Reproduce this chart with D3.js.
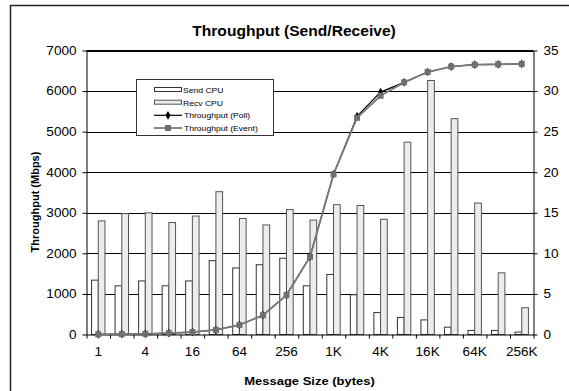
<!DOCTYPE html>
<html><head><meta charset="utf-8">
<script src="https://cdn.jsdelivr.net/npm/d3@7"></script>
<style>
body{margin:0;background:#fff}
svg{display:block;font-family:"Liberation Sans",Arial,Helvetica,sans-serif}
</style>
</head><body>
<svg id="chart" width="569" height="391"></svg>
<script>
// Message sizes (bytes), one category per power of two
const sizes = ["1","2","4","8","16","32","64","128","256","512","1K","2K","4K","8K","16K","32K","64K","128K","256K"];
const tickLabels = ["1","4","16","64","256","1K","4K","16K","64K","256K"];

// CPU utilisation (%), right axis
const sendCpu = [6.7, 6.0, 6.6, 6.0, 6.6, 9.1, 8.2, 8.6, 9.4, 6.0, 7.4, 4.9, 2.7, 2.1, 1.8, 0.9, 0.5, 0.5, 0.3];
const recvCpu = [14.0, 14.9, 15.0, 13.8, 14.6, 17.6, 14.3, 13.5, 15.4, 14.1, 16.0, 15.9, 14.2, 23.7, 31.3, 26.6, 16.2, 7.6, 3.3];

// Throughput (Mbps), left axis
const pollMbps  = [4, 8, 17, 32, 60, 112, 235, 475, 970, 1915, 3950, 5380, 5975, 6215, 6470, 6605, 6650, 6660, 6670];
const eventMbps = [4, 8, 17, 32, 60, 112, 235, 475, 970, 1915, 3950, 5340, 5885, 6215, 6470, 6605, 6650, 6660, 6670];

const leftTicks  = [0, 1000, 2000, 3000, 4000, 5000, 6000, 7000];
const rightTicks = [0, 5, 10, 15, 20, 25, 30, 35];

const legendItems = ["Send CPU", "Recv CPU", "Throughput (Poll)", "Throughput (Event)"];

const svg = d3.select("#chart");
const SX = 1.13; // horizontal text stretch
const plot = {left: 86.5, right: 533.5, top: 50.5, bottom: 334.5};

// outer frame
svg.append("rect")
  .attr("x", 10.5).attr("y", 5.5).attr("width", 600).attr("height", 420)
  .attr("fill", "none").attr("stroke", "#222").attr("stroke-width", 1.5);

// scales
const x = d3.scaleBand().domain(sizes).range([plot.left, plot.right])
  .paddingInner(0.43).paddingOuter(0.215);
const xSub = d3.scaleBand().domain(["send", "recv"]).range([0, x.bandwidth()]);
const xEdge = d3.scaleLinear().domain([0, sizes.length]).range([plot.left, plot.right]);
const yL = d3.scaleLinear().domain([0, 7000]).range([plot.bottom, plot.top]);
const yR = d3.scaleLinear().domain([0, 35]).range([plot.bottom, plot.top]);
const cx = d => x(d) + x.bandwidth() / 2;

// gridlines
svg.append("g").selectAll("line")
  .data(leftTicks.slice(1))
  .join("line")
  .attr("x1", plot.left).attr("x2", plot.right)
  .attr("y1", d => Math.round(yL(d)) + 0.5).attr("y2", d => Math.round(yL(d)) + 0.5)
  .attr("stroke", "#000").attr("stroke-width", 1);

// CPU bars
const barG = svg.append("g");
const cpuRows = sizes.map((s, i) => ({size: s, send: sendCpu[i], recv: recvCpu[i]}));
barG.selectAll("g")
  .data(cpuRows)
  .join("g")
  .attr("transform", d => `translate(${x(d.size)},0)`)
  .each(function(d) {
    const g = d3.select(this);
    g.append("rect")
      .attr("x", xSub("send")).attr("width", xSub.bandwidth())
      .attr("y", yR(d.send)).attr("height", yR(0) - yR(d.send))
      .attr("fill", "#ffffff").attr("stroke", "#333").attr("stroke-width", 1);
    g.append("rect")
      .attr("x", xSub("recv")).attr("width", xSub.bandwidth())
      .attr("y", yR(d.recv)).attr("height", yR(0) - yR(d.recv))
      .attr("fill", "#ececec").attr("stroke", "#555").attr("stroke-width", 1);
  });

// axes
const fontTick = "12px";
const leftAxis = svg.append("g")
  .attr("transform", `translate(${plot.left},0)`)
  .call(d3.axisLeft(yL).tickValues(leftTicks).tickFormat(d3.format("d"))
    .tickSize(4).tickPadding(6).tickSizeOuter(0));
const rightAxis = svg.append("g")
  .attr("transform", `translate(${plot.right},0)`)
  .call(d3.axisRight(yR).tickValues(rightTicks).tickFormat(d3.format("d"))
    .tickSize(4).tickPadding(6).tickSizeOuter(0));
const edgeAxis = svg.append("g")
  .attr("transform", `translate(0,${plot.bottom})`)
  .call(d3.axisBottom(xEdge).tickValues(d3.range(sizes.length + 1)).tickFormat("").tickSize(4).tickSizeOuter(0));
const labelAxis = svg.append("g")
  .attr("transform", `translate(0,${plot.bottom})`)
  .call(d3.axisBottom(x).tickValues(tickLabels).tickSize(0).tickPadding(13).tickSizeOuter(0));
labelAxis.select(".domain").remove();

[leftAxis, rightAxis, edgeAxis, labelAxis].forEach(a => {
  a.select(".domain").attr("stroke", "#000");
  a.selectAll(".tick line").attr("stroke", "#000");
  a.selectAll("text").attr("font-size", fontTick).attr("fill", "#000")
    .attr("font-family", "Liberation Sans, Arial, sans-serif");
});
leftAxis.selectAll("text").attr("x", -10 / SX).attr("transform", `scale(${SX},1)`);
rightAxis.selectAll("text").attr("x", 10 / SX).attr("transform", `scale(${SX},1)`);
labelAxis.selectAll("text").attr("transform", `scale(${SX},1)`);

// plot top border
svg.append("line")
  .attr("x1", plot.left).attr("x2", plot.right)
  .attr("y1", plot.top).attr("y2", plot.top)
  .attr("stroke", "#000");

// throughput lines
const line = d3.line().x((d, i) => cx(sizes[i])).y(d => yL(d));
svg.append("path").datum(pollMbps)
  .attr("d", line).attr("fill", "none").attr("stroke", "#000").attr("stroke-width", 1.2);
svg.append("g").selectAll("path")
  .data(pollMbps).join("path")
  .attr("d", d3.symbol(d3.symbolDiamond, 22))
  .attr("transform", (d, i) => `translate(${cx(sizes[i])},${yL(d)})`)
  .attr("fill", "#000");
svg.append("path").datum(eventMbps)
  .attr("d", line).attr("fill", "none").attr("stroke", "#7a7a7a").attr("stroke-width", 1.8);
svg.append("g").selectAll("rect")
  .data(eventMbps).join("rect")
  .attr("x", (d, i) => cx(sizes[i]) - 3).attr("y", d => yL(d) - 3)
  .attr("width", 6).attr("height", 6)
  .attr("fill", "#6f6f6f");

// legend
const lg = svg.append("g");
lg.append("rect").attr("x", 136.5).attr("y", 79.5).attr("width", 137).attr("height", 56)
  .attr("fill", "#fff").attr("stroke", "#333").attr("stroke-width", 1);
const rowY = [90, 102.7, 115.3, 128];
legendItems.forEach((name, i) => {
  const y = rowY[i];
  if (i === 0 || i === 1) {
    lg.append("rect").attr("x", 154.5).attr("y", y - 2.5).attr("width", 27).attr("height", 4)
      .attr("fill", i === 0 ? "#fff" : "#ececec").attr("stroke", i === 0 ? "#333" : "#555");
  } else if (i === 2) {
    lg.append("line").attr("x1", 154).attr("x2", 182).attr("y1", y).attr("y2", y)
      .attr("stroke", "#000").attr("stroke-width", 1.2);
    lg.append("path").attr("d", d3.symbol(d3.symbolDiamond, 22))
      .attr("transform", `translate(168,${y})`).attr("fill", "#000");
  } else {
    lg.append("line").attr("x1", 154).attr("x2", 182).attr("y1", y).attr("y2", y)
      .attr("stroke", "#7a7a7a").attr("stroke-width", 1.8);
    lg.append("rect").attr("x", 165).attr("y", y - 3).attr("width", 6).attr("height", 6)
      .attr("fill", "#6f6f6f");
  }
  lg.append("text")
    .attr("transform", `translate(${i < 2 ? 183 : 184},${y + 2.8}) scale(${SX},1)`)
    .attr("font-size", "7.6px").attr("fill", "#000")
    .text(name);
});

// titles
svg.append("text")
  .attr("transform", `translate(294,36) scale(${SX},1)`)
  .attr("text-anchor", "middle").attr("font-size", "13.8px").attr("font-weight", "bold")
  .text("Throughput (Send/Receive)");
svg.append("text")
  .attr("transform", `translate(309.5,385) scale(${SX},1)`)
  .attr("text-anchor", "middle").attr("font-size", "11.5px").attr("font-weight", "bold")
  .text("Message Size (bytes)");
svg.append("text")
  .attr("transform", "translate(39,202) rotate(-90)")
  .attr("text-anchor", "middle").attr("font-size", "11px").attr("font-weight", "bold")
  .text("Throughput (Mbps)");
</script>
</body></html>
